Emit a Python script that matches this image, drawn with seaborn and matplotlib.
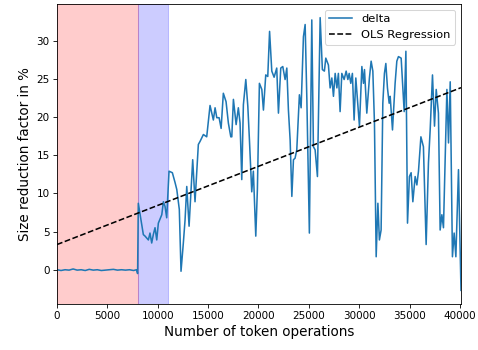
import numpy as np
import pandas as pd
import matplotlib
matplotlib.use("Agg")
import matplotlib.pyplot as plt
import seaborn as sns

# Flat region (0 - 8000)
flat_x = [0, 400, 800, 1200, 1600, 2000, 2400, 2800, 3200, 3600, 4000, 4400,
          4800, 5200, 5600, 6000, 6400, 6800, 7200, 7600, 7900, 8000]
flat_y = [0.0, -0.1, 0.0, -0.05, 0.1, -0.05, 0.0, -0.1, 0.05, -0.05, 0.0, -0.1,
          -0.05, 0.0, 0.05, -0.05, 0.0, -0.05, 0.0, -0.1, 0.0, -0.5]

# Remaining region
rest_x = [8070, 8570, 8740, 9070, 9230, 9400, 9560, 9730, 9900, 10060, 10400,
          10560, 10720, 10890, 11120, 11450, 11720, 11890, 12140, 12310, 12540,
          12710, 12880, 13110, 13470, 13700, 14030, 14200, 14530, 14860, 15190,
          15520, 15690, 15860, 16090, 16290, 16510, 16780, 17010, 17250, 17350,
          17510, 17780, 18000, 18170, 18340, 18500, 18740, 18940, 19100, 19330,
          19490, 19730, 19890, 20090, 20330, 20490, 20720, 20920, 21100, 21320,
          21550, 21810, 21980, 22210, 22410, 22640, 22810, 22970, 23140, 23310,
          23470, 23630, 23800, 24060, 24230, 24460, 24630, 24800, 25050, 25290,
          25450, 25620, 25850, 26120, 26340, 26540, 26680, 26940, 27110, 27280,
          27440, 27610, 27780, 27930, 28100, 28270, 28500, 28700, 28870, 29000,
          29160, 29320, 29490, 29660, 29860, 30020, 30260, 30420, 30520, 30750,
          31010, 31180, 31350, 31510, 31680, 31850, 32000, 32170, 32340, 32500,
          32640, 32800, 32970, 33070, 33300, 33560, 33730, 33890, 34160, 34460,
          34630, 34790, 34980, 35150, 35320, 35550, 35720, 35880, 36120, 36370,
          36640, 36870, 37040, 37270, 37470, 37640, 37860, 38030, 38200, 38360,
          38700, 38860, 39030, 39250, 39420, 39590, 39850, 40100]
rest_y = [8.7, 4.6, 4.4, 3.9, 4.8, 3.5, 4.6, 5.5, 3.9, 6.1, 7.2,
          8.9, 8.3, 6.8, 12.9, 12.7, 11.4, 10.5, 7.9, -0.2, 3.5,
          6.5, 10.9, 5.7, 14.4, 8.9, 16.4, 16.8, 17.7, 17.4, 21.5,
          19.6, 21.2, 19.9, 19.9, 18.5, 23.1, 22.0, 19.2, 17.4, 17.4,
          22.3, 19.0, 21.2, 19.2, 11.8, 21.6, 24.9, 21.4, 17.0, 10.2,
          12.9, 4.4, 10.5, 24.4, 23.6, 20.9, 25.5, 25.3, 31.2, 26.0,
          25.2, 26.4, 20.5, 26.4, 26.6, 24.9, 26.4, 20.9, 17.0, 9.6,
          14.4, 14.6, 15.7, 22.9, 21.2, 30.5, 32.1, 22.3, 4.8, 32.7,
          16.1, 15.7, 12.2, 33.0, 26.2, 26.0, 27.7, 26.8, 23.8, 25.1,
          22.7, 25.7, 23.8, 25.7, 20.7, 25.7, 24.9, 26.0, 24.9, 25.7,
          24.4, 25.7, 19.6, 25.1, 21.6, 18.8, 26.6, 24.4, 26.2, 20.5,
          25.1, 27.3, 26.0, 19.2, 1.7, 8.7, 3.9, 5.2, 21.8, 25.7,
          27.0, 23.8, 21.8, 22.7, 18.3, 24.4, 27.3, 27.9, 27.7, 20.7,
          28.6, 6.1, 12.2, 12.7, 8.9, 12.2, 11.1, 12.9, 17.4, 16.1,
          3.3, 14.0, 18.3, 25.5, 18.8, 23.6, 20.5, 5.2, 7.2, 5.5,
          23.6, 16.6, 24.6, 1.7, 4.8, 1.7, 13.1, -2.7]

token_ops = flat_x + rest_x
delta = flat_y + rest_y

# OLS regression line
ols_intercept = 3.3
ols_slope = 0.000512

# Shaded phases
phase1 = (0, 8000)
phase2 = (8000, 11000)

df = pd.DataFrame({"ops": token_ops, "delta": delta})
ols_x = np.array([token_ops[0], token_ops[-1]])
ols_df = pd.DataFrame({"ops": ols_x, "fit": ols_intercept + ols_slope * ols_x})

fig = plt.figure(figsize=(478 / 75, 350 / 75), dpi=75)
ax = fig.add_axes([57 / 478, 1 - 304 / 350, (461 - 57) / 478, (304 - 4) / 350])

ax.axvspan(*phase1, color="red", alpha=0.2)
ax.axvspan(*phase2, color="blue", alpha=0.2)

sns.lineplot(data=df, x="ops", y="delta", ax=ax, label="delta", color="#1f77b4", linewidth=1.5)
sns.lineplot(data=ols_df, x="ops", y="fit", ax=ax, label="OLS Regression",
             color="black", linestyle="--", linewidth=1.5)

ax.set_xlim(0, token_ops[-1])
ax.set_xlabel("Number of token operations", fontsize=13)
ax.set_ylabel("Size reduction factor in %", fontsize=13)
ax.tick_params(labelsize=10)
ax.legend(loc="upper right", fontsize=11)

fig.savefig("out.png", dpi=75)
